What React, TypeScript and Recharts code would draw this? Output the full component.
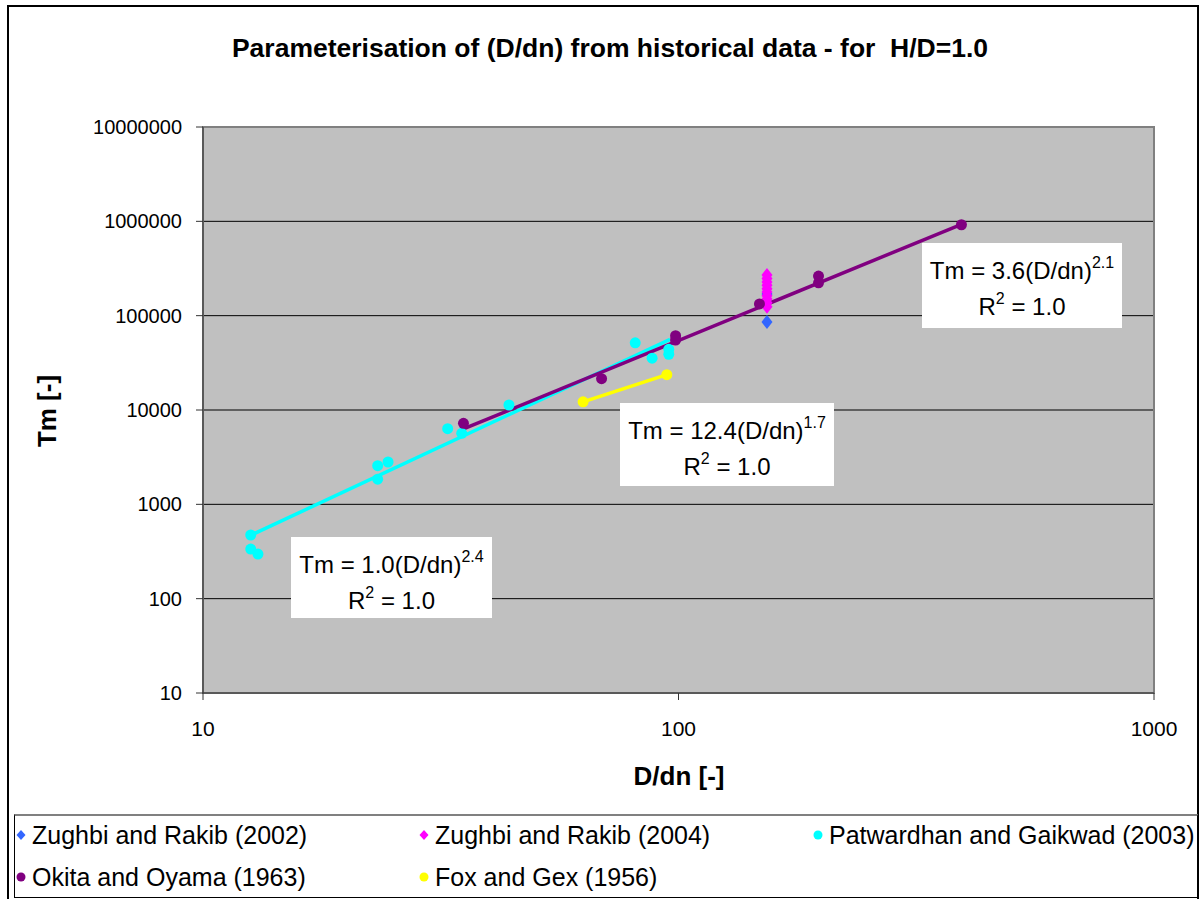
import React from "react";
import {
  ScatterChart,
  Scatter,
  XAxis,
  YAxis,
  CartesianGrid,
  ReferenceArea,
} from "recharts";

const zughbi2002 = [
  { x: 153.5, y: 85700 },
  { x: 153.5, y: 170000 },
];

const zughbi2004 = [
  { x: 153.5, y: 124000 },
  { x: 153.5, y: 137000 },
  { x: 153.5, y: 150000 },
  { x: 153.5, y: 163000 },
  { x: 153.5, y: 178000 },
  { x: 153.5, y: 193000 },
  { x: 153.5, y: 210000 },
  { x: 153.5, y: 228000 },
  { x: 153.5, y: 248000 },
  { x: 153.5, y: 270000 },
];

const patwardhan2003 = [
  { x: 12.6, y: 473 },
  { x: 12.6, y: 336 },
  { x: 13.05, y: 297 },
  { x: 23.3, y: 2570 },
  { x: 24.5, y: 2810 },
  { x: 23.3, y: 1850 },
  { x: 32.7, y: 6340 },
  { x: 35.0, y: 5660 },
  { x: 44.0, y: 11300 },
  { x: 81.1, y: 51600 },
  { x: 88.0, y: 35400 },
  { x: 95.4, y: 39000 },
  { x: 95.4, y: 44000 },
];

const okita1963 = [
  { x: 35.3, y: 7230 },
  { x: 68.9, y: 21500 },
  { x: 98.6, y: 61400 },
  { x: 98.6, y: 55200 },
  { x: 148, y: 133000 },
  { x: 197, y: 263000 },
  { x: 197, y: 223000 },
  { x: 393.6, y: 920000 },
];

const fox1956 = [
  { x: 63.0, y: 12200 },
  { x: 94.5, y: 23700 },
];

// power-law trendline ends (straight on log-log)
const patwardhanTrend = [
  { x: 12.6, y: 470 },
  { x: 96, y: 56000 },
];
const okitaTrend = [
  { x: 35.3, y: 6300 },
  { x: 393.6, y: 930000 },
];
const foxTrend = [
  { x: 63.0, y: 12200 },
  { x: 94.5, y: 23700 },
];

const xTicks = [10, 100, 1000];
const yTicks = [10, 100, 1000, 10000, 100000, 1000000, 10000000];

const legendItems = [
  { name: "Zughbi and Rakib (2002)", color: "#3366FF", shape: "diamond" },
  { name: "Zughbi and Rakib (2004)", color: "#FF00FF", shape: "diamond" },
  { name: "Patwardhan and Gaikwad (2003)", color: "#00FFFF", shape: "circle" },
  { name: "Okita and Oyama (1963)", color: "#800080", shape: "circle" },
  { name: "Fox and Gex (1956)", color: "#FFFF00", shape: "circle" },
];

const FONT = "'Liberation Sans', Arial, sans-serif";

const dot = (color: string) => (props: any) =>
  <circle cx={props.cx} cy={props.cy} r={5.5} fill={color} />;

const diamond = (color: string) => (props: any) => {
  const { cx, cy } = props;
  return <polygon points={`${cx},${cy - 7} ${cx + 5.5},${cy} ${cx},${cy + 7} ${cx - 5.5},${cy}`} fill={color} />;
};

const noShape = () => <g />;

const supStyle = { fontSize: 16, verticalAlign: "11px", lineHeight: 0 };

const EqBox = ({ left, top, width, height, coef, exp }: any) => (
  <div
    style={{
      position: "absolute",
      left,
      top,
      width,
      height,
      background: "#fff",
      fontFamily: FONT,
      fontSize: 24,
      textAlign: "center",
      lineHeight: "36px",
      paddingTop: 10,
      boxSizing: "border-box",
    }}
  >
    <div>
      Tm = {coef}(D/dn)<sup style={supStyle}>{exp}</sup>
    </div>
    <div>
      R<sup style={supStyle}>2</sup> = 1.0
    </div>
  </div>
);

const LegendMarker = ({ color, shape }: any) => (
  <svg width={12} height={12} style={{ marginRight: 5 }}>
    {shape === "diamond" ? (
      <polygon points="6,1 10.5,6 6,11 1.5,6" fill={color} />
    ) : (
      <circle cx={6} cy={6} r={4.5} fill={color} />
    )}
  </svg>
);

export default function App() {
  const legendPos = [
    { left: 15, top: 821 },
    { left: 418, top: 821 },
    { left: 812, top: 821 },
    { left: 15, top: 863 },
    { left: 418, top: 863 },
  ];

  return (
    <div style={{ position: "absolute", left: 0, top: 0, width: 1200, height: 899, background: "#fff", fontFamily: FONT }}>
      <ScatterChart width={1200} height={899} margin={{ top: 127, right: 46, bottom: 176, left: 103 }}>
        <CartesianGrid fill="#C0C0C0" vertical={false} stroke="#000" strokeWidth={1} />
        <ReferenceArea x1={10} x2={1000} y1={10} y2={10000000} fill="none" stroke="#808080" strokeWidth={2} ifOverflow="extendDomain" />
        <XAxis
          dataKey="x"
          type="number"
          scale="log"
          domain={[10, 1000]}
          ticks={xTicks}
          allowDataOverflow
          height={30}
          stroke="#333"
          tickSize={7}
          tickMargin={21}
          tick={{ fill: "#000", fontSize: 21, fontFamily: FONT }}
        />
        <YAxis
          dataKey="y"
          type="number"
          scale="log"
          domain={[10, 10000000]}
          ticks={yTicks}
          allowDataOverflow
          width={100}
          stroke="#333"
          tickSize={7}
          tickMargin={14}
          tick={{ fill: "#000", fontSize: 20, fontFamily: FONT }}
        />
        <Scatter data={patwardhanTrend} line={{ stroke: "#00FFFF", strokeWidth: 3.5 }} shape={noShape} isAnimationActive={false} />
        <Scatter data={okitaTrend} line={{ stroke: "#800080", strokeWidth: 3.5 }} shape={noShape} isAnimationActive={false} />
        <Scatter data={foxTrend} line={{ stroke: "#FFFF00", strokeWidth: 3.5 }} shape={noShape} isAnimationActive={false} />
        <Scatter name="Zughbi and Rakib (2002)" data={zughbi2002} shape={diamond("#3366FF")} isAnimationActive={false} />
        <Scatter name="Zughbi and Rakib (2004)" data={zughbi2004} shape={diamond("#FF00FF")} isAnimationActive={false} />
        <Scatter name="Patwardhan and Gaikwad (2003)" data={patwardhan2003} shape={dot("#00FFFF")} isAnimationActive={false} />
        <Scatter name="Okita and Oyama (1963)" data={okita1963} shape={dot("#800080")} isAnimationActive={false} />
        <Scatter name="Fox and Gex (1956)" data={fox1956} shape={dot("#FFFF00")} isAnimationActive={false} />
      </ScatterChart>

      {/* outer frame */}
      <div style={{ position: "absolute", left: 7, top: 5, width: 1192, height: 894, border: "2px solid #000", borderBottom: "none", boxSizing: "border-box", pointerEvents: "none" }} />

      <div style={{ position: "absolute", left: 610, top: 48, transform: "translate(-50%, -50%)", fontWeight: "bold", fontSize: 26.5, whiteSpace: "pre" }}>
        {"Parameterisation of (D/dn) from historical data - for  H/D=1.0"}
      </div>

      <div style={{ position: "absolute", left: 47, top: 411, transform: "translate(-50%, -50%) rotate(-90deg)", fontWeight: "bold", fontSize: 26, whiteSpace: "nowrap" }}>
        Tm [-]
      </div>
      <div style={{ position: "absolute", left: 679, top: 776, transform: "translate(-50%, -50%)", fontWeight: "bold", fontSize: 26, whiteSpace: "nowrap" }}>
        D/dn [-]
      </div>

      <EqBox left={291} top={537} width={201} height={81} coef="1.0" exp="2.4" />
      <EqBox left={620} top={403} width={214} height={83} coef="12.4" exp="1.7" />
      <EqBox left={922} top={243} width={200} height={85} coef="3.6" exp="2.1" />

      {/* legend box */}
      <div style={{ position: "absolute", left: 14, top: 814, width: 1184, height: 84, border: "1px solid #000", borderTop: "2px solid #808080", boxSizing: "border-box" }} />
      {legendItems.map((item, i) => (
        <div key={item.name} style={{ position: "absolute", left: legendPos[i].left, top: legendPos[i].top, display: "flex", alignItems: "center", fontSize: 25, whiteSpace: "nowrap", lineHeight: "28px" }}>
          <LegendMarker color={item.color} shape={item.shape} />
          {item.name}
        </div>
      ))}
    </div>
  );
}
